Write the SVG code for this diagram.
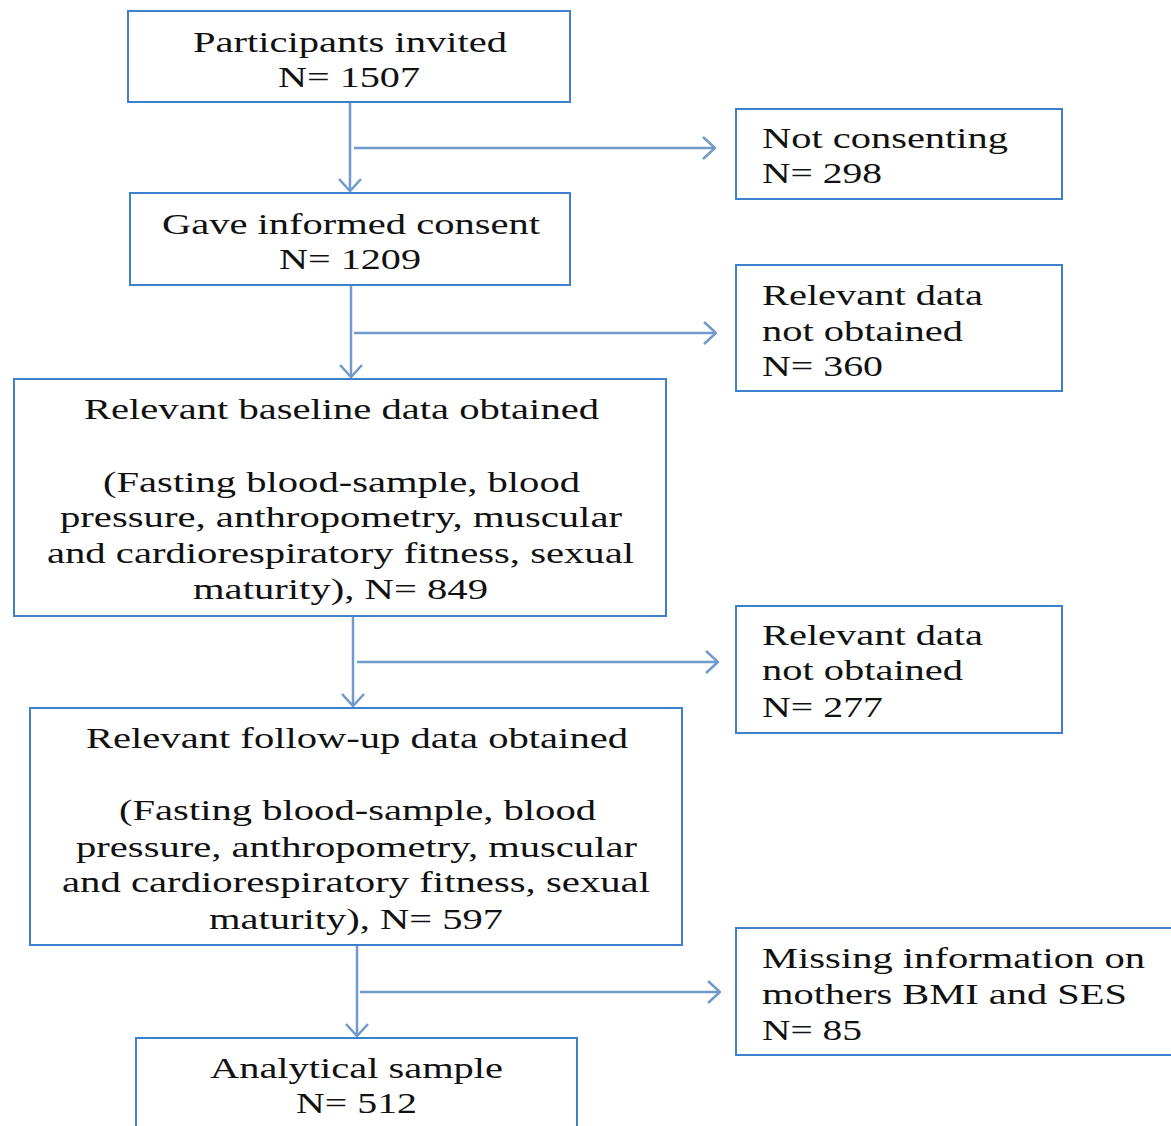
<svg xmlns="http://www.w3.org/2000/svg" width="1171" height="1126" viewBox="0 0 1171 1126">
<style>
.box{fill:#fff;stroke:#3d80cc;stroke-width:2}
.con{fill:none;stroke:#7099cc;stroke-width:2.5}
text{font-family:"Liberation Serif","Times New Roman",serif;font-size:30px;fill:#111}
</style>
<defs>
<marker id="ah" viewBox="0 0 14 24" refX="13" refY="12" markerWidth="14" markerHeight="24" markerUnits="userSpaceOnUse" orient="auto">
<path d="M1,1 L13,12 L1,23" fill="none" stroke="#7099cc" stroke-width="2.5"/>
</marker>
</defs>
<rect width="1171" height="1126" fill="#fff"/>
<g id="connectors">
<path class="con" d="M350,102 V191" marker-end="url(#ah)"/>
<path class="con" d="M354,148 H715" marker-end="url(#ah)"/>
<path class="con" d="M351,286 V377" marker-end="url(#ah)"/>
<path class="con" d="M354,333 H716" marker-end="url(#ah)"/>
<path class="con" d="M353,617 V706" marker-end="url(#ah)"/>
<path class="con" d="M357,662 H718" marker-end="url(#ah)"/>
<path class="con" d="M357,946 V1036" marker-end="url(#ah)"/>
<path class="con" d="M360,992 H720" marker-end="url(#ah)"/>
</g>
<g id="invited">
<rect class="box" x="128" y="11" width="442" height="91"/>
<text x="193" y="52" textLength="314" lengthAdjust="spacingAndGlyphs">Participants invited</text>
<text x="278" y="87" textLength="142" lengthAdjust="spacingAndGlyphs">N= 1507</text>
</g>
<g id="notconsent">
<rect class="box" x="736" y="109" width="326" height="90"/>
<text x="762" y="148" textLength="246" lengthAdjust="spacingAndGlyphs">Not consenting</text>
<text x="762" y="183" textLength="120" lengthAdjust="spacingAndGlyphs">N= 298</text>
</g>
<g id="consent">
<rect class="box" x="130" y="193" width="440" height="92"/>
<text x="162" y="234" textLength="378" lengthAdjust="spacingAndGlyphs">Gave informed consent</text>
<text x="279" y="269" textLength="142" lengthAdjust="spacingAndGlyphs">N= 1209</text>
</g>
<g id="notobtained1">
<rect class="box" x="736" y="265" width="326" height="126"/>
<text x="762" y="305" textLength="221" lengthAdjust="spacingAndGlyphs">Relevant data</text>
<text x="762" y="341" textLength="201" lengthAdjust="spacingAndGlyphs">not obtained</text>
<text x="762" y="376" textLength="121" lengthAdjust="spacingAndGlyphs">N= 360</text>
</g>
<g id="baseline">
<rect class="box" x="14" y="379" width="652" height="237"/>
<text x="84" y="419" textLength="515" lengthAdjust="spacingAndGlyphs">Relevant baseline data obtained</text>
<text x="103" y="492" textLength="477" lengthAdjust="spacingAndGlyphs">(Fasting blood-sample, blood</text>
<text x="60" y="527" textLength="562" lengthAdjust="spacingAndGlyphs">pressure, anthropometry, muscular</text>
<text x="47" y="563" textLength="587" lengthAdjust="spacingAndGlyphs">and cardiorespiratory fitness, sexual</text>
<text x="193" y="599" textLength="295" lengthAdjust="spacingAndGlyphs">maturity), N= 849</text>
</g>
<g id="notobtained2">
<rect class="box" x="736" y="606" width="326" height="127"/>
<text x="762" y="645" textLength="221" lengthAdjust="spacingAndGlyphs">Relevant data</text>
<text x="762" y="680" textLength="201" lengthAdjust="spacingAndGlyphs">not obtained</text>
<text x="762" y="717" textLength="121" lengthAdjust="spacingAndGlyphs">N= 277</text>
</g>
<g id="followup">
<rect class="box" x="30" y="708" width="652" height="237"/>
<text x="86" y="748" textLength="542" lengthAdjust="spacingAndGlyphs">Relevant follow-up data obtained</text>
<text x="119" y="820" textLength="477" lengthAdjust="spacingAndGlyphs">(Fasting blood-sample, blood</text>
<text x="76" y="857" textLength="561" lengthAdjust="spacingAndGlyphs">pressure, anthropometry, muscular</text>
<text x="62" y="892" textLength="588" lengthAdjust="spacingAndGlyphs">and cardiorespiratory fitness, sexual</text>
<text x="209" y="929" textLength="294" lengthAdjust="spacingAndGlyphs">maturity), N= 597</text>
</g>
<g id="missing">
<rect class="box" x="736" y="928" width="445" height="127"/>
<text x="762" y="968" textLength="383" lengthAdjust="spacingAndGlyphs">Missing information on</text>
<text x="762" y="1004" textLength="365" lengthAdjust="spacingAndGlyphs">mothers BMI and SES</text>
<text x="762" y="1040" textLength="100" lengthAdjust="spacingAndGlyphs">N= 85</text>
</g>
<g id="analytical">
<rect class="box" x="136" y="1038" width="441" height="100"/>
<text x="210" y="1078" textLength="293" lengthAdjust="spacingAndGlyphs">Analytical sample</text>
<text x="296" y="1113" textLength="121" lengthAdjust="spacingAndGlyphs">N= 512</text>
</g>
</svg>
